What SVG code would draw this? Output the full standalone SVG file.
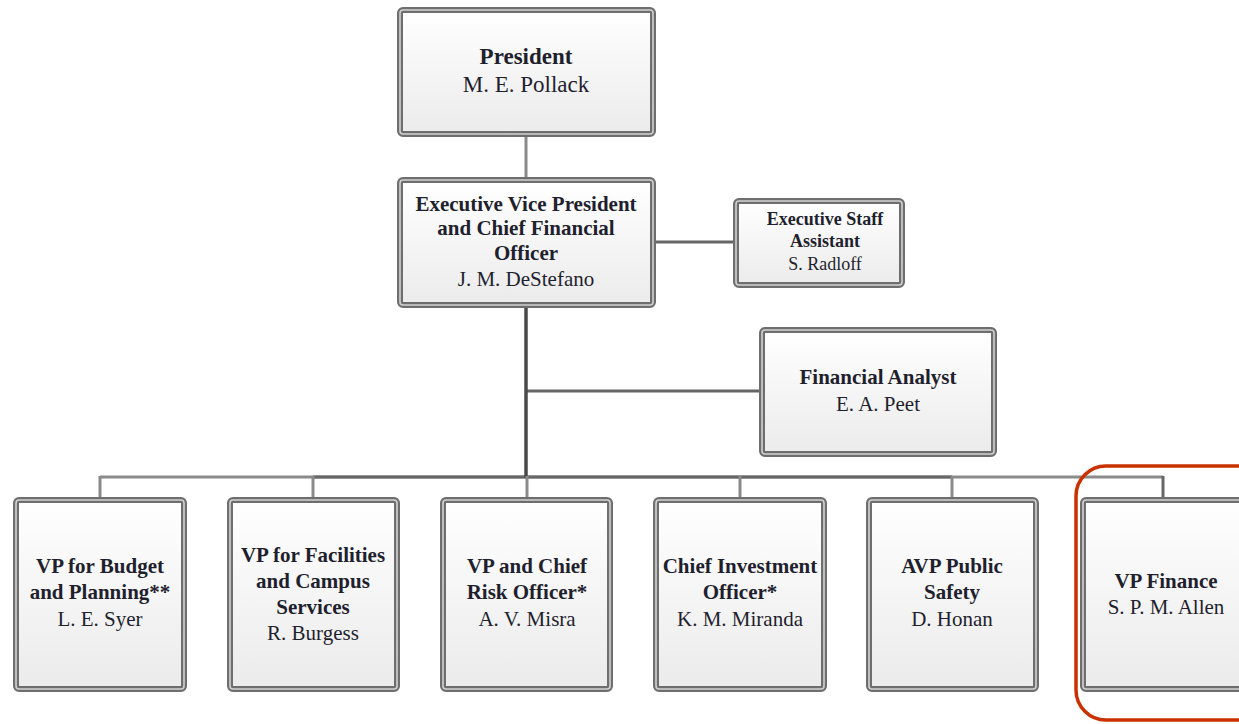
<svg xmlns="http://www.w3.org/2000/svg" width="1239" height="724" viewBox="0 0 1239 724">
<defs>
<linearGradient id="g" x1="0" y1="0" x2="0" y2="1">
<stop offset="0" stop-color="#ffffff"/>
<stop offset="1" stop-color="#ebebeb"/>
</linearGradient>
<style>
.frame{fill:url(#g);stroke:#6e6e6e;stroke-width:6}
.inner{fill:none;stroke:#d2d2d2;stroke-width:1.6}
text{font-family:"Liberation Serif","Times New Roman",serif;fill:#1f1f2e;text-anchor:middle}
.t{font-weight:bold;font-size:21px}
.n{font-size:21px}
.ts{font-weight:bold;font-size:18px}
.ns{font-size:18px}
.c{fill:none;stroke:#8a8a8a;stroke-width:3}
.cd{fill:none;stroke:#4a4a4a;stroke-width:3.5}
.cm{fill:none;stroke:#666;stroke-width:3}
</style>
</defs>
<rect width="1239" height="724" fill="#ffffff"/>
<g id="connectors">
<line class="c" x1="526" y1="137" x2="526" y2="177"/>
<line class="cm" x1="655" y1="242" x2="733" y2="242"/>
<line class="cm" x1="526" y1="391" x2="759" y2="391"/>
<line class="c" x1="100" y1="477" x2="1163" y2="477"/>
<line class="cm" x1="313" y1="477" x2="952" y2="477"/>
<line class="cd" x1="526" y1="307" x2="526" y2="478"/>
<line class="c" x1="100" y1="476" x2="100" y2="497"/>
<line class="c" x1="313" y1="476" x2="313" y2="497"/>
<line class="c" x1="527" y1="476" x2="527" y2="497"/>
<line class="c" x1="740" y1="476" x2="740" y2="497"/>
<line class="c" x1="952" y1="476" x2="952" y2="497"/>
<line class="cm" x1="1163" y1="476" x2="1163" y2="497"/>
</g>
<g id="president">
<rect class="frame" x="400" y="10" width="253" height="124" rx="3"/>
<rect class="inner" x="400" y="10" width="253" height="124" rx="3"/>
<text class="t" x="526" y="64" style="font-size:23px">President</text>
<text class="n" x="526" y="92" style="font-size:23px">M. E. Pollack</text>
</g>
<g id="evp">
<rect class="frame" x="400" y="180" width="253" height="125" rx="3"/>
<rect class="inner" x="400" y="180" width="253" height="125" rx="3"/>
<text class="t" x="526" y="211">Executive Vice President</text>
<text class="t" x="526" y="235">and Chief Financial</text>
<text class="t" x="526" y="260">Officer</text>
<text class="n" x="526" y="286">J. M. DeStefano</text>
</g>
<g id="staff">
<rect class="frame" x="736" y="201" width="166" height="84" rx="3"/>
<rect class="inner" x="736" y="201" width="166" height="84" rx="3"/>
<text class="ts" x="825" y="225">Executive Staff</text>
<text class="ts" x="825" y="247">Assistant</text>
<text class="ns" x="825" y="270">S. Radloff</text>
</g>
<g id="analyst">
<rect class="frame" x="762" y="330" width="232" height="124" rx="3"/>
<rect class="inner" x="762" y="330" width="232" height="124" rx="3"/>
<text class="t" x="878" y="384">Financial Analyst</text>
<text class="n" x="878" y="411">E. A. Peet</text>
</g>
<g id="vp-budget">
<rect class="frame" x="16" y="500" width="168" height="189" rx="3"/>
<rect class="inner" x="16" y="500" width="168" height="189" rx="3"/>
<text class="t" x="100" y="573">VP for Budget</text>
<text class="t" x="100" y="599">and Planning**</text>
<text class="n" x="100" y="626">L. E. Syer</text>
</g>
<g id="vp-facilities">
<rect class="frame" x="230" y="500" width="167" height="189" rx="3"/>
<rect class="inner" x="230" y="500" width="167" height="189" rx="3"/>
<text class="t" x="313" y="562">VP for Facilities</text>
<text class="t" x="313" y="588">and Campus</text>
<text class="t" x="313" y="614">Services</text>
<text class="n" x="313" y="640">R. Burgess</text>
</g>
<g id="vp-risk">
<rect class="frame" x="443" y="500" width="167" height="189" rx="3"/>
<rect class="inner" x="443" y="500" width="167" height="189" rx="3"/>
<text class="t" x="527" y="573">VP and Chief</text>
<text class="t" x="527" y="599">Risk Officer*</text>
<text class="n" x="527" y="626">A. V. Misra</text>
</g>
<g id="cio">
<rect class="frame" x="656" y="500" width="168" height="189" rx="3"/>
<rect class="inner" x="656" y="500" width="168" height="189" rx="3"/>
<text class="t" x="740" y="573">Chief Investment</text>
<text class="t" x="740" y="599">Officer*</text>
<text class="n" x="740" y="626">K. M. Miranda</text>
</g>
<g id="avp-safety">
<rect class="frame" x="869" y="500" width="167" height="189" rx="3"/>
<rect class="inner" x="869" y="500" width="167" height="189" rx="3"/>
<text class="t" x="952" y="573">AVP Public</text>
<text class="t" x="952" y="599">Safety</text>
<text class="n" x="952" y="626">D. Honan</text>
</g>
<g id="vp-finance">
<rect class="frame" x="1083" y="500" width="168" height="189" rx="3"/>
<rect class="inner" x="1083" y="500" width="168" height="189" rx="3"/>
<text class="t" x="1166" y="588">VP Finance</text>
<text class="n" x="1166" y="614">S. P. M. Allen</text>
</g>
<g id="highlight">
<rect x="1076" y="466" width="200" height="254" rx="30" fill="none" stroke="#c93200" stroke-width="3.5"/>
</g>
</svg>
